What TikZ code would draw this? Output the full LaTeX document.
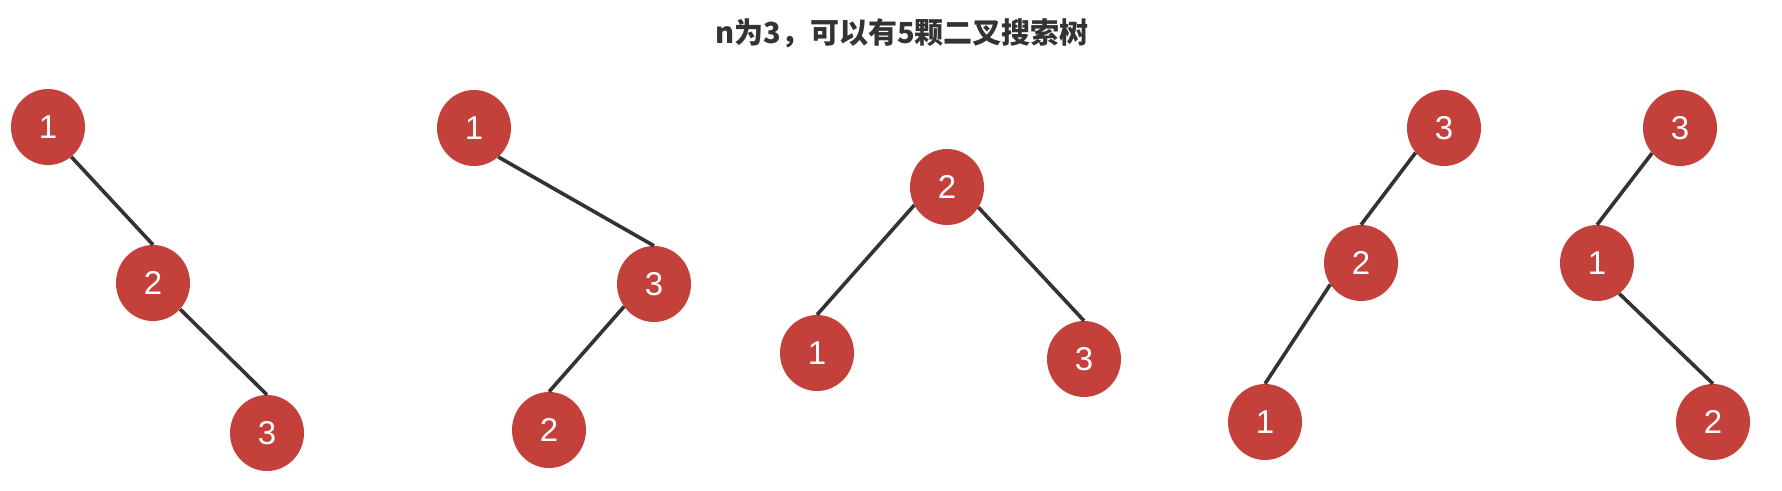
\documentclass[tikz,border=0pt]{standalone}
\usepackage{fontspec}
\setmainfont{Liberation Sans}
\newfontfamily\cjk{Noto Sans CJK SC}
\usepackage{tikz}
\usetikzlibrary{shapes.geometric}
\definecolor{bstred}{RGB}{196,64,58}
\definecolor{bstgray}{RGB}{51,51,51}

\begin{document}
\begin{tikzpicture}[x=1pt,y=-1pt,
  bst/.style={ellipse,fill=bstred,text=white,inner sep=0pt,
    minimum width=74pt,minimum height=76pt,font=\fontsize{33}{33}\selectfont},
  link/.style={draw=bstgray,line width=3.6pt}]
\useasboundingbox (0,0) rectangle (1782,490);
\node[font=\cjk\bfseries\fontsize{29}{29}\selectfont,text=bstgray] (title) at (902,33) {n为3，可以有5颗二叉搜索树};
% tree 1
\node[bst] (a1) at (48,127) {1};
\node[bst] (a2) at (153,283) {2};
\node[bst] (a3) at (267,433) {3};
\draw[link] (a1.-52) -- (a2.north);
\draw[link] (a2.-44) -- (a3.north);
% tree 2
\node[bst] (b1) at (474,128) {1};
\node[bst] (b3) at (654,284) {3};
\node[bst] (b2) at (549,430) {2};
\draw[link] (b1.-50) -- (b3.north);
\draw[link] (b3.-143) -- (b2.north);
% tree 3
\node[bst] (c2) at (947,187) {2};
\node[bst] (c1) at (817,353) {1};
\node[bst] (c3) at (1084,359) {3};
\draw[link] (c2.-151) -- (c1.north);
\draw[link] (c2.-33) -- (c3.north);
% tree 4
\node[bst] (d3) at (1444,128) {3};
\node[bst] (d2) at (1361,263) {2};
\node[bst] (d1) at (1265,422) {1};
\draw[link] (d3.-139) -- (d2.north);
\draw[link] (d2.-145) -- (d1.north);
% tree 5
\node[bst] (e3) at (1680,128) {3};
\node[bst] (e1) at (1597,263) {1};
\node[bst] (e2) at (1713,422) {2};
\draw[link] (e3.-138) -- (e1.north);
\draw[link] (e1.-54) -- (e2.north);
\end{tikzpicture}
\end{document}
